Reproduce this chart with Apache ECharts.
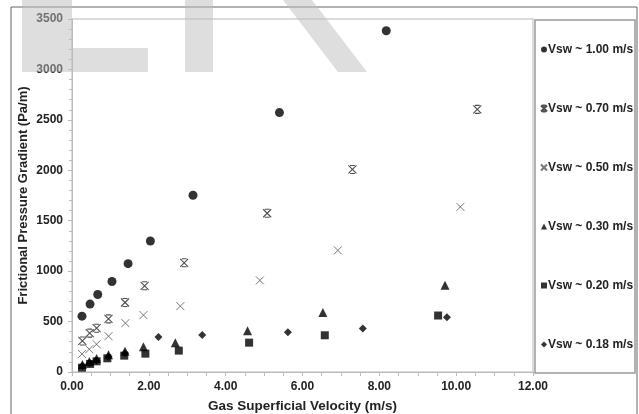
<!DOCTYPE html>
<html>
<head>
<meta charset="utf-8">
<script src="https://cdn.jsdelivr.net/npm/echarts@6/dist/echarts.min.js"></script>
<style>
  html, body { margin: 0; padding: 0; background: #fff; }
  #chart { width: 639px; height: 414px; }
</style>
</head>
<body>
<div id="chart"></div>
<script>
// series names (legend order)
const seriesNames = ['Vsw ~ 1.00 m/s', 'Vsw ~ 0.70 m/s', 'Vsw ~ 0.50 m/s', 'Vsw ~ 0.30 m/s', 'Vsw ~ 0.20 m/s', 'Vsw ~ 0.18 m/s'];

// gas superficial velocity (m/s) and frictional pressure gradient (Pa/m)
const vsg100 = [0.26, 0.47, 0.67, 1.04, 1.46, 2.04, 3.15, 5.40, 8.18];
const dp100 = [554, 673, 768, 897, 1074, 1299, 1752, 2572, 3383];

const vsg070 = [0.27, 0.46, 0.64, 0.95, 1.38, 1.89, 2.92, 5.08, 7.30, 10.55];
const dp070 = [308, 385, 434, 527, 689, 855, 1083, 1574, 2008, 2604];

const vsg050 = [0.26, 0.45, 0.64, 0.95, 1.39, 1.86, 2.82, 4.89, 6.92, 10.11];
const dp050 = [179, 226, 275, 355, 484, 564, 653, 908, 1206, 1637];

const vsg030 = [0.27, 0.45, 0.64, 0.95, 1.38, 1.86, 2.69, 4.57, 6.53, 9.71];
const dp030 = [75, 105, 135, 170, 205, 250, 290, 410, 590, 860];

const vsg020 = [0.26, 0.47, 0.64, 0.92, 1.36, 1.91, 2.78, 4.61, 6.58, 9.53];
const dp020 = [43, 80, 106, 136, 162, 182, 212, 291, 364, 560];

const vsg018 = [0.27, 0.46, 0.64, 0.95, 1.38, 2.25, 3.39, 5.62, 7.57, 9.76];
const dp018 = [60, 90, 115, 150, 185, 348, 368, 394, 431, 543];

const xs = [vsg100, vsg070, vsg050, vsg030, vsg020, vsg018];
const ys = [dp100, dp070, dp050, dp030, dp020, dp018];

const xPath = 'path://M0,0L10,10M10,0L0,10';
const xBarPath = 'path://M2,0L8,0M2,10L8,10M0,0L10,10M10,0L0,10';

const markers = [
  { symbol: 'circle', size: 9, style: { color: '#000' } },
  { symbol: xBarPath, size: 8, style: { color: 'transparent', borderColor: '#222', borderWidth: 1.1 } },
  { symbol: xPath, size: 8, style: { color: 'transparent', borderColor: '#555', borderWidth: 1 } },
  { symbol: 'triangle', size: 9, style: { color: '#000' } },
  { symbol: 'rect', size: 8, style: { color: '#000' } },
  { symbol: 'diamond', size: 8, style: { color: '#000' } }
];

const chart = echarts.init(document.getElementById('chart'));

const labelFont = { fontFamily: 'Liberation Sans, Arial, sans-serif', fontWeight: 'bold', color: '#222' };

const option = {
  animation: false,
  grid: {
    left: 72, right: 106, top: 19, bottom: 42,
    outerBoundsMode: 'none',
    show: true, borderColor: '#cfcfcf', borderWidth: 1.5
  },
  xAxis: {
    type: 'value',
    min: 0, max: 12, interval: 2,
    name: 'Gas Superficial Velocity (m/s)',
    nameLocation: 'middle',
    nameGap: 27,
    nameMoveOverlap: false,
    nameTextStyle: { ...labelFont, fontSize: 13.5 },
    axisLine: { lineStyle: { color: '#bbb' } },
    axisTick: { length: 4, lineStyle: { color: '#bbb' } },
    minorTick: { show: true, splitNumber: 4, length: 4, lineStyle: { color: '#bbb' } },
    splitLine: { show: false },
    axisLabel: { ...labelFont, fontSize: 12, margin: 9, formatter: v => v.toFixed(2) }
  },
  yAxis: {
    type: 'value',
    min: 0, max: 3500, interval: 500,
    name: 'Frictional Pressure Gradient (Pa/m)',
    nameLocation: 'middle',
    nameGap: 42,
    nameMoveOverlap: false,
    nameTextStyle: { ...labelFont, fontSize: 13 },
    axisLine: { show: true, lineStyle: { color: '#bbb' } },
    axisTick: { show: true, length: 4, lineStyle: { color: '#bbb' } },
    minorTick: { show: true, splitNumber: 5, length: 3, lineStyle: { color: '#bbb' } },
    splitLine: { show: false },
    axisLabel: { ...labelFont, fontSize: 12, margin: 9, formatter: v => String(v) }
  },
  legend: {
    orient: 'vertical',
    left: 535, top: 38,
    itemWidth: 6, itemHeight: 6,
    itemGap: 46,
    textStyle: { ...labelFont, fontSize: 12, lineHeight: 13, padding: [0, 0, 0, -4] },
    data: seriesNames
  },
  graphic: [
    // outer chart frame
    { type: 'rect', shape: { x: 11, y: 7, width: 626, height: 430 },
      style: { fill: 'none', stroke: '#666', lineWidth: 1 }, silent: true },
    // legend box
    { type: 'rect', shape: { x: 535, y: 20, width: 100, height: 353 },
      style: { fill: 'none', stroke: '#999', lineWidth: 1.5 }, silent: true },
    // watermark shapes
    { type: 'polygon', z: 100, silent: true,
      shape: { points: [[22, 0], [72, 0], [72, 48], [148, 48], [148, 72], [22, 72]] },
      style: { fill: 'rgba(190,190,190,0.5)' } },
    { type: 'polygon', z: 100, silent: true,
      shape: { points: [[185, 0], [213, 0], [213, 72], [185, 72]] },
      style: { fill: 'rgba(190,190,190,0.5)' } },
    { type: 'polygon', z: 100, silent: true,
      shape: { points: [[283, 0], [312, 0], [367, 72], [338, 72]] },
      style: { fill: 'rgba(190,190,190,0.5)' } }
  ],
  series: seriesNames.map((name, i) => ({
    name: name,
    type: 'scatter',
    symbol: markers[i].symbol,
    symbolSize: markers[i].size,
    itemStyle: markers[i].style,
    data: xs[i].map((x, j) => [x, ys[i][j]])
  }))
};

chart.setOption(option);
</script>
</body>
</html>
